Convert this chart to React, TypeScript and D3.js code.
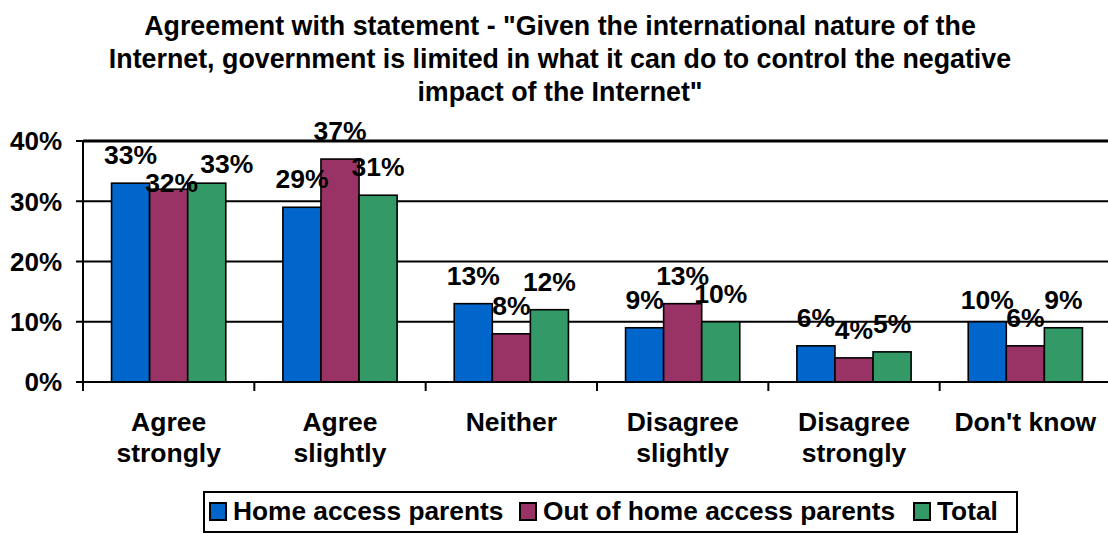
import React from "react";
import * as d3 from "d3";

const categories: string[][] = [
  ["Agree", "strongly"],
  ["Agree", "slightly"],
  ["Neither"],
  ["Disagree", "slightly"],
  ["Disagree", "strongly"],
  ["Don't know"],
];
const seriesNames = ["Home access parents", "Out of home access parents", "Total"];
const homeAccess = [33, 29, 13, 9, 6, 10];
const outOfHome = [32, 37, 8, 13, 4, 6];
const total = [33, 31, 12, 10, 5, 9];
const yTicks = [0, 10, 20, 30, 40];
const titleLines = [
  'Agreement with statement - "Given the international nature of the',
  "Internet, government is limited in what it can do to control the negative",
  'impact of the Internet"',
];
const colors = ["#0066CC", "#993366", "#339966"];

// manual label nudges observed in the original (series-category -> [dx, dy])
const labelNudge: Record<string, [number, number]> = {
  "1-0": [3, 22],
  "2-0": [20, 9],
  "0-5": [0, 6],
};

const W = 1108;
const H = 533;
const FONT = "'Liberation Sans', Arial, Helvetica, sans-serif";

export default function App() {
  const series = [homeAccess, outOfHome, total];
  const x = d3
    .scaleBand<number>()
    .domain(categories.map((_, i) => i))
    .range([83, 1111])
    .paddingInner(0)
    .paddingOuter(0);
  const y = d3.scaleLinear().domain([0, 40]).range([382, 141]);
  const bw = x.bandwidth() / 4.5;
  const groupOffset = bw * 0.75;

  return (
    <svg
      width={W}
      height={H}
      style={{ position: "absolute", left: 0, top: 0, background: "#fff" }}
      fontFamily={FONT}
      fontWeight="bold"
    >
      <rect x={0} y={0} width={W} height={H} fill="#fff" />
      {/* title */}
      {titleLines.map((t, i) => (
        <text key={i} x={560} y={35 + i * 33} textAnchor="middle" fontSize={26.8} fill="#000">
          {t}
        </text>
      ))}

      {/* gridlines */}
      {yTicks.filter((t) => t > 0).map((t) => (
        <line
          key={t}
          x1={83}
          x2={W}
          y1={y(t)}
          y2={y(t)}
          stroke="#000"
          strokeWidth={t === 40 ? 3 : 2}
        />
      ))}

      {/* y axis */}
      <line x1={83} x2={83} y1={y(40)} y2={390} stroke="#000" strokeWidth={2} />
      {yTicks.map((t) => (
        <g key={t}>
          <line x1={76} x2={83} y1={y(t)} y2={y(t)} stroke="#000" strokeWidth={2} />
          <text x={62} y={y(t)} dy="0.36em" textAnchor="end" fontSize={26} fill="#000">
            {t}%
          </text>
        </g>
      ))}

      {/* bars */}
      {series.map((vals, s) =>
        vals.map((v, c) => (
          <rect
            key={`${s}-${c}`}
            x={(x(c) as number) + groupOffset + s * bw}
            y={y(v)}
            width={bw}
            height={y(0) - y(v)}
            fill={colors[s]}
            stroke="#000"
            strokeWidth={1.6}
          />
        ))
      )}

      {/* x axis */}
      <line x1={83} x2={W} y1={382} y2={382} stroke="#000" strokeWidth={2} />
      {categories.map((_, i) => (
        <line
          key={i}
          x1={x(i) as number}
          x2={x(i) as number}
          y1={382}
          y2={391}
          stroke="#000"
          strokeWidth={2}
        />
      ))}
      {categories.map((lines, i) => (
        <text
          key={i}
          x={(x(i) as number) + x.bandwidth() / 2}
          y={431}
          textAnchor="middle"
          fontSize={26.5}
          fill="#000"
        >
          {lines.map((l, j) => (
            <tspan key={j} x={(x(i) as number) + x.bandwidth() / 2} dy={j === 0 ? 0 : 31}>
              {l}
            </tspan>
          ))}
        </text>
      ))}

      {/* data labels */}
      {series.map((vals, s) =>
        vals.map((v, c) => {
          const n = labelNudge[`${s}-${c}`] || [0, 0];
          return (
            <text
              key={`l${s}-${c}`}
              x={(x(c) as number) + groupOffset + s * bw + bw / 2 + n[0]}
              y={y(v) - 19 + n[1]}
              textAnchor="middle"
              fontSize={26.5}
              fill="#000"
            >
              {v}%
            </text>
          );
        })
      )}

      {/* legend */}
      <rect x={204} y={492} width={813} height={40} fill="#fff" stroke="#000" strokeWidth={2} />
      {(() => {
        const itemX = [210, 520, 914];
        return seriesNames.map((name, s) => (
          <g key={name}>
            <rect
              x={itemX[s]}
              y={503}
              width={16}
              height={17}
              fill={colors[s]}
              stroke="#000"
              strokeWidth={2}
            />
            <text x={itemX[s] + 23} y={520} fontSize={26.3} fill="#000">
              {name}
            </text>
          </g>
        ));
      })()}
    </svg>
  );
}
